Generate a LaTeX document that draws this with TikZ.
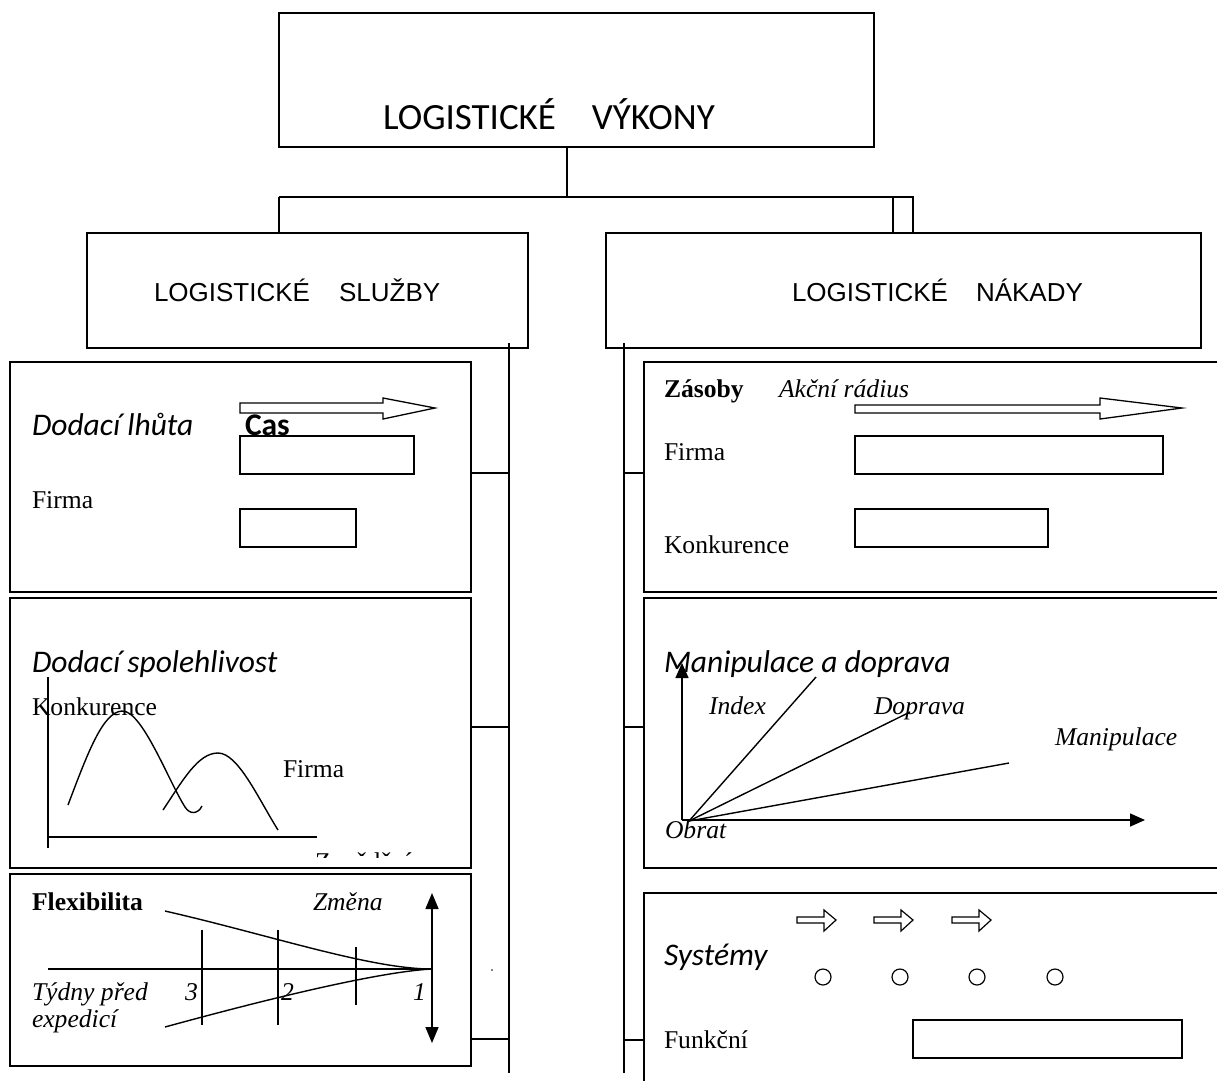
\documentclass[tikz,border=0pt]{standalone}
\usepackage{fontspec}
\setmainfont{Liberation Serif}
\newfontfamily\calfont{Carlito}
\newfontfamily\arialfont{Liberation Sans}
\usetikzlibrary{arrows.meta,calc}
\begin{document}
\begin{tikzpicture}[x=1pt,y=-1pt,
  box/.style={draw,line width=1.8pt,inner sep=0pt,outer sep=0pt,anchor=north west},
  ln/.style={line width=1.5pt},
  gl/.style={line width=1.4pt},
  lbl/.style={anchor=base west,inner sep=0pt,outer sep=0pt},
  tms/.style={font=\fontsize{25.6}{28}\selectfont},
  tmsi/.style={font=\fontsize{25.6}{28}\selectfont\itshape},
  tmsb/.style={font=\fontsize{25.6}{28}\selectfont\bfseries},
  cali/.style={font=\calfont\fontsize{31.5}{34}\selectfont\itshape},
  calb/.style={font=\calfont\fontsize{31.5}{34}\selectfont\bfseries},
  ari/.style={font=\arialfont\fontsize{26}{30}\selectfont},
  tip/.style={-{Triangle[width=13pt,length=15pt]}},
]
\useasboundingbox (0,0) rectangle (1217,1080);
\clip (0,0) rectangle (1217,1080);
\fill[white] (0,0) rectangle (1217,1080);

% --- top level boxes
\node[box,minimum width=595pt,minimum height=134pt] (top) at (279,13) {};
\node[lbl,font=\calfont\fontsize{37}{42}\selectfont] (ttop) at (383,129) {LOGISTICKÉ\hspace{36pt}VÝKONY};
\node[box,minimum width=441pt,minimum height=115pt] (lbox) at (87,233) {};
\node[lbl,ari] (tl) at (154,301) {LOGISTICKÉ\hspace{29pt}SLUŽBY};
\node[box,minimum width=595pt,minimum height=115pt] (rbox) at (606,233) {};
\node[lbl,ari] (tr) at (792,301) {LOGISTICKÉ\hspace{28pt}NÁKADY};
\node[box,line width=1.5pt,minimum width=20pt,minimum height=36pt] (sr) at (893,197) {};

% --- tree connectors
\coordinate (j) at (567,197);
\coordinate (hl) at (279,197);
\draw[ln] (top.south -| j) -- (j);
\draw[ln] (hl) -- (sr.north west);
\draw[ln] (hl) -- (hl |- lbox.north);
\coordinate (lvt) at (509,343);
\coordinate (lvb) at (509,1073);
\coordinate (rvt) at (624,343);
\coordinate (rvb) at (624,1073);
\draw[ln] (lvt) -- (lvb);
\draw[ln] (rvt) -- (rvb);

% --- left panels
\node[box,minimum width=461pt,minimum height=230pt] (lp1) at (10,362) {};
\node[box,minimum width=461pt,minimum height=270pt] (lp2) at (10,598) {};
\node[box,minimum width=461pt,minimum height=192pt] (lp3) at (10,874) {};
\draw[ln] ([yshift=4pt]lp1.east) -- ([yshift=4pt]lp1.east -| lvt);
\draw[ln] ([yshift=6pt]lp2.east) -- ([yshift=6pt]lp2.east -| lvt);
\draw[ln] ([yshift=27pt]lp3.south east) -- ([yshift=27pt]lp3.south east -| lvt);

% --- right panels
\node[box,minimum width=600pt,minimum height=230pt] (rp1) at (644,362) {};
\node[box,minimum width=600pt,minimum height=270pt] (rp2) at (644,598) {};
\node[box,minimum width=600pt,minimum height=210pt] (rp3) at (644,893) {};
\draw[ln] ([yshift=4pt]rp1.west) -- ([yshift=4pt]rp1.west -| rvt);
\draw[ln] ([yshift=6pt]rp2.west) -- ([yshift=6pt]rp2.west -| rvt);
\draw[ln] ([yshift=-147pt]rp3.north west) -- ([yshift=-147pt]rp3.north west -| rvt);

% ===== Left panel 1: Dodaci lhuta
\draw[line width=1.3pt] (240,403) -- (383,403) -- (383,398) -- (435,408) -- (383,419) -- (383,413) -- (240,413) -- cycle;
\node[box,line width=1.6pt,minimum width=174pt,minimum height=38pt] (r1) at (240,436) {};
\node[box,line width=1.6pt,minimum width=116pt,minimum height=38pt] (r2) at (240,509) {};
\node[lbl,cali] (dl) at (32,435) {Dodací lhůta};
\node[lbl,calb] (cas) at (245,435) {Cas};
\node[lbl,tms] (f1) at (32,508) {Firma};

% ===== Left panel 2: Dodaci spolehlivost
\node[lbl,cali] (ds) at (32,672) {Dodací spolehlivost};
\draw[gl] (48,677) -- (48,848);
\draw[gl] (48,837) -- (317,837);
\node[lbl,tms] (k1) at (32,715) {Konkurence};
\draw[gl] (68,805) .. controls (88,752) and (103,712) .. (122,711)
      .. controls (142,710) and (168,780) .. (185,807)
      .. controls (190,815) and (198,814) .. (202,806);
\draw[gl] (163,810) .. controls (183,780) and (198,753) .. (218,753)
      .. controls (238,753) and (258,798) .. (278,830);
\node[lbl,tms] (f2) at (283,777) {Firma};
\begin{scope}
  \clip (300,840) rectangle (460,857);
  \node[lbl,tms] (zp) at (315,870) {Zpoždění};
\end{scope}

% ===== Left panel 3: Flexibilita
\node[lbl,tmsb] (fx) at (32,910) {Flexibilita};
\node[lbl,tmsi] (zm) at (313,910) {Změna};
\draw[gl] (48,969) -- (432,969);
\draw[gl] (202,930) -- (202,1025);
\draw[gl] (278,930) -- (278,1025);
\draw[gl] (356,947) -- (356,1005);
\draw[gl] (165,911) .. controls (270,935) and (370,969) .. (432,969);
\draw[gl] (165,1027) .. controls (300,990) and (390,971) .. (432,969);
\draw[line width=1.6pt,{Triangle[width=13pt,length=16pt]}-{Triangle[width=13pt,length=16pt]}] (432,893) -- (432,1043);
\node[lbl,tmsi] (td) at (32,1000) {Týdny před};
\node[lbl,tmsi] (ex) at (32,1027) {expedicí};
\node[lbl,tmsi] (n3) at (185,1000) {3};
\node[lbl,tmsi] (n2) at (281,1000) {2};
\node[lbl,tmsi] (n1) at (413,1000) {1};
\fill (492,970) circle (0.8pt);

% ===== Right panel 1: Zasoby
\node[lbl,tmsb] (zs) at (664,397) {Zásoby};
\node[lbl,tmsi] (ar) at (779,397) {Akční rádius};
\draw[line width=1.3pt] (855,405) -- (1100,405) -- (1100,398) -- (1182,408) -- (1100,419) -- (1100,413) -- (855,413) -- cycle;
\node[box,line width=1.6pt,minimum width=308pt,minimum height=38pt] (r3) at (855,436) {};
\node[box,line width=1.6pt,minimum width=193pt,minimum height=38pt] (r4) at (855,509) {};
\node[lbl,tms] (f3) at (664,460) {Firma};
\node[lbl,tms] (k2) at (664,553) {Konkurence};

% ===== Right panel 2: Manipulace a doprava
\coordinate (o) at (682,820);
\coordinate (o2) at (689,821);
\draw[line width=1.5pt,tip] (o) -- (682,663);
\draw[line width=1.5pt,tip] (o) -- (1145,820);
\draw[gl] (o2) -- (816,677);
\draw[gl] (o2) -- (910,712);
\draw[gl] (o2) -- (1009,763);
\node[lbl,cali] (md) at (664,672) {Manipulace a doprava};
\node[lbl,tmsi] (ix) at (709,714) {Index};
\node[lbl,tmsi] (dp) at (874,714) {Doprava};
\node[lbl,tmsi] (mp) at (1055,745) {Manipulace};
\node[lbl,tmsi] (ob) at (665,838) {Obrat};

% ===== Right panel 3: Systemy
\foreach \dx in {0,77,155}{
  \draw[line width=1.2pt] ({797+\dx},917) -- ({824+\dx},917) -- ({824+\dx},910) -- ({836+\dx},920) -- ({824+\dx},931) -- ({824+\dx},923) -- ({797+\dx},923) -- cycle;
}
\node[lbl,cali] (sy) at (664,965) {Systémy};
\node[draw,circle,line width=1.2pt,minimum size=16pt,inner sep=0pt] (c1) at (823,977) {};
\node[draw,circle,line width=1.2pt,minimum size=16pt,inner sep=0pt] (c2) at (900,977) {};
\node[draw,circle,line width=1.2pt,minimum size=16pt,inner sep=0pt] (c3) at (977,977) {};
\node[draw,circle,line width=1.2pt,minimum size=16pt,inner sep=0pt] (c4) at (1055,977) {};
\node[lbl,tms] (fk) at (664,1048) {Funkční};
\node[box,line width=1.6pt,minimum width=269pt,minimum height=38pt] (r5) at (913,1020) {};
\end{tikzpicture}
\end{document}
